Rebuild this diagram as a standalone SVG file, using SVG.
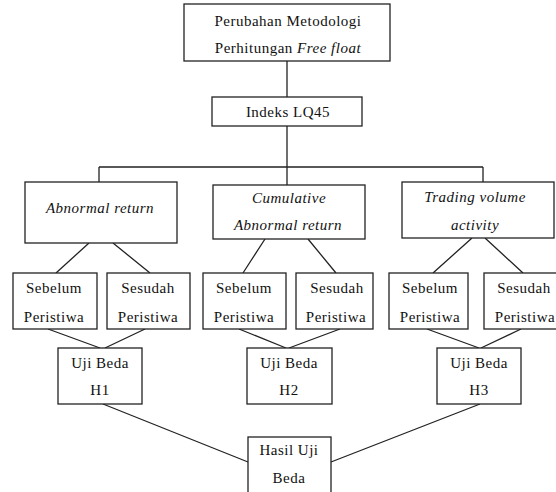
<svg xmlns="http://www.w3.org/2000/svg" width="556" height="492" viewBox="0 0 556 492">
<style>
.box{fill:#fff;stroke:#222;stroke-width:1.3}
.t{font-size:15px;letter-spacing:0.5px;fill:#111;text-anchor:middle}
.i{font-style:italic}
.c{stroke:#222;stroke-width:1.3;fill:none}
</style>
<rect width="556" height="492" fill="#fff"/>
<g id="connectors">
<path class="c" d="M287,61V97M287,126V167M99,167H483M99,167V182M287,167V185M483,167V182"/>
<path class="c" d="M89,243L56,273M113,243L150,273M265,239L243,273M308,239L336,273M472,238L433,273M485,238L523,273"/>
<path class="c" d="M48,329L100,348M145,329L105,348M239,329L286,348M340,329L289,348M427,329L479,348M521,329L481,348"/>
<path class="c" d="M103,404L248,462M480,404L331,462"/>
</g>
<g id="n-top"><rect class="box" x="184" y="4" width="206" height="57"/>
<text class="t" font-family="Liberation Serif" x="288" y="26">Perubahan Metodologi</text>
<text class="t" font-family="Liberation Serif" x="288" y="53">Perhitungan <tspan font-style="italic">Free float</tspan></text></g>
<g id="n-lq45"><rect class="box" x="212" y="97" width="150" height="29"/>
<text class="t" font-family="Liberation Serif" x="288" y="117">Indeks LQ45</text></g>
<g id="n-ar"><rect class="box" x="25" y="182" width="152" height="61"/>
<text class="t i" font-family="Liberation Serif" x="100" y="213">Abnormal return</text></g>
<g id="n-car"><rect class="box" x="213" y="185" width="152" height="54"/>
<text class="t i" font-family="Liberation Serif" x="289" y="203">Cumulative</text>
<text class="t i" font-family="Liberation Serif" x="288" y="230">Abnormal return</text></g>
<g id="n-tva"><rect class="box" x="402" y="182" width="152" height="56"/>
<text class="t i" font-family="Liberation Serif" x="475" y="202">Trading volume</text>
<text class="t i" font-family="Liberation Serif" x="475" y="230">activity</text></g>
<g id="n-seb1"><rect class="box" x="13" y="273" width="84" height="56"/>
<text class="t" font-family="Liberation Serif" x="54" y="293">Sebelum</text><text class="t" font-family="Liberation Serif" x="54" y="322">Peristiwa</text></g>
<g id="n-ses1"><rect class="box" x="107" y="273" width="83" height="56"/>
<text class="t" font-family="Liberation Serif" x="148" y="293">Sesudah</text><text class="t" font-family="Liberation Serif" x="148" y="322">Peristiwa</text></g>
<g id="n-seb2"><rect class="box" x="203" y="273" width="83" height="56"/>
<text class="t" font-family="Liberation Serif" x="244" y="293">Sebelum</text><text class="t" font-family="Liberation Serif" x="244" y="322">Peristiwa</text></g>
<g id="n-ses2"><rect class="box" x="296" y="273" width="77" height="56"/>
<text class="t" font-family="Liberation Serif" x="337" y="293">Sesudah</text><text class="t" font-family="Liberation Serif" x="336" y="322">Peristiwa</text></g>
<g id="n-seb3"><rect class="box" x="389" y="273" width="79" height="56"/>
<text class="t" font-family="Liberation Serif" x="430" y="293">Sebelum</text><text class="t" font-family="Liberation Serif" x="430" y="322">Peristiwa</text></g>
<g id="n-ses3"><rect class="box" x="484" y="273" width="80" height="56"/>
<text class="t" font-family="Liberation Serif" x="524" y="293">Sesudah</text><text class="t" font-family="Liberation Serif" x="525" y="322">Peristiwa</text></g>
<g id="n-h1"><rect class="box" x="58" y="348" width="84" height="56"/>
<text class="t" font-family="Liberation Serif" x="100" y="368">Uji Beda</text><text class="t" font-family="Liberation Serif" x="100" y="395">H1</text></g>
<g id="n-h2"><rect class="box" x="247" y="348" width="85" height="56"/>
<text class="t" font-family="Liberation Serif" x="289" y="368">Uji Beda</text><text class="t" font-family="Liberation Serif" x="289" y="395">H2</text></g>
<g id="n-h3"><rect class="box" x="437" y="348" width="84" height="56"/>
<text class="t" font-family="Liberation Serif" x="479" y="368">Uji Beda</text><text class="t" font-family="Liberation Serif" x="479" y="395">H3</text></g>
<g id="n-hasil"><rect class="box" x="248" y="437" width="83" height="62"/>
<text class="t" font-family="Liberation Serif" x="289" y="455">Hasil Uji</text><text class="t" font-family="Liberation Serif" x="289" y="483">Beda</text></g>
</svg>
